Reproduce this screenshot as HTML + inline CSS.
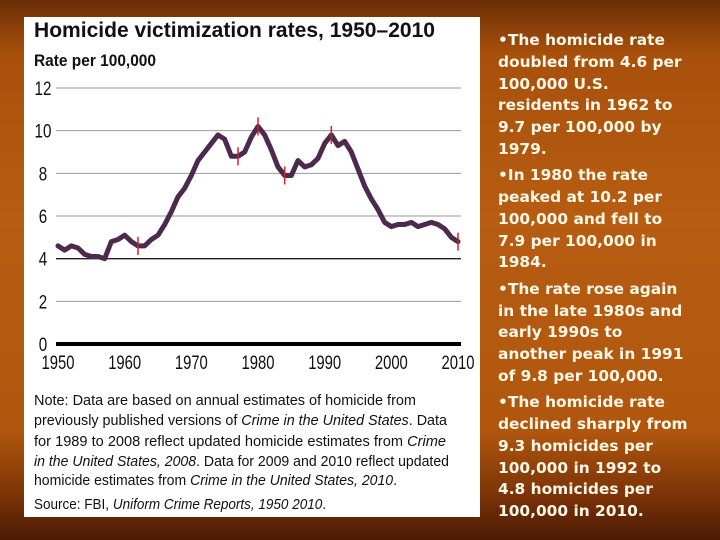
<!DOCTYPE html>
<html><head><meta charset="utf-8"><style>
html,body{margin:0;padding:0;width:720px;height:540px;overflow:hidden}
body{background:linear-gradient(180deg,#6a2e06 0%,#a8500c 10%,#b75d12 40%,#b0560e 80%,#7a3206 92%,#4a1a04 100%);position:relative;font-family:"Liberation Sans",sans-serif}
#panel{position:absolute;left:24px;top:17px;width:456px;height:500px;background:#fff}
#side{position:absolute;left:498px;top:30px;width:222px;color:#fff8e8;font-family:"DejaVu Sans",sans-serif;font-weight:bold;font-size:15.4px;line-height:21.8px}
#side p{margin:0 0 4.5px 0;white-space:nowrap}
</style></head><body>
<div id="panel"></div>
<svg id="chart" width="720" height="540" style="position:absolute;left:0;top:0">
<text x="34" y="37" font-size="21" font-weight="bold" textLength="401" lengthAdjust="spacingAndGlyphs" fill="#111">Homicide victimization rates, 1950–2010</text>
<text x="34" y="66" font-size="17" font-weight="bold" textLength="122" lengthAdjust="spacingAndGlyphs" fill="#111">Rate per 100,000</text>
<g id="grid"></g><g id="ylabels"></g><g id="xlabels"></g><g id="series"></g><g id="marks"></g>
<g font-size="15" fill="#111">
<text x="34" y="405" textLength="382" lengthAdjust="spacingAndGlyphs">Note: Data are based on annual estimates of homicide from</text>
<text x="34" y="425" textLength="413" lengthAdjust="spacingAndGlyphs">previously published versions of <tspan font-style="italic">Crime in the United States</tspan>. Data</text>
<text x="34" y="446" textLength="412" lengthAdjust="spacingAndGlyphs">for 1989 to 2008 reflect updated homicide estimates from <tspan font-style="italic">Crime</tspan></text>
<text x="34" y="466" textLength="415" lengthAdjust="spacingAndGlyphs"><tspan font-style="italic">in the United States, 2008</tspan>. Data for 2009 and 2010 reflect updated</text>
<text x="34" y="485" textLength="363" lengthAdjust="spacingAndGlyphs">homicide estimates from <tspan font-style="italic">Crime in the United States, 2010</tspan>.</text>
<text x="34" y="509" textLength="292" lengthAdjust="spacingAndGlyphs">Source: FBI, <tspan font-style="italic">Uniform Crime Reports, 1950 2010</tspan>.</text>
</g>
</svg>
<div id="side">
<p>•The homicide rate<br>doubled from 4.6 per<br>100,000 U.S.<br>residents in 1962 to<br>9.7 per 100,000 by<br>1979.</p>
<p>•In 1980 the rate<br>peaked at 10.2 per<br>100,000 and fell to<br>7.9 per 100,000 in<br>1984.</p>
<p>•The rate rose again<br>in the late 1980s and<br>early 1990s to<br>another peak in 1991<br>of 9.8 per 100,000.</p>
<p>•The homicide rate<br>declined sharply from<br>9.3 homicides per<br>100,000 in 1992 to<br>4.8 homicides per<br>100,000 in 2010.</p>
</div>
<script>
const years=[1950,1951,1952,1953,1954,1955,1956,1957,1958,1959,1960,1961,1962,1963,1964,1965,1966,1967,1968,1969,1970,1971,1972,1973,1974,1975,1976,1977,1978,1979,1980,1981,1982,1983,1984,1985,1986,1987,1988,1989,1990,1991,1992,1993,1994,1995,1996,1997,1998,1999,2000,2001,2002,2003,2004,2005,2006,2007,2008,2009,2010];
const rates=[4.6,4.4,4.6,4.5,4.2,4.1,4.1,4.0,4.8,4.9,5.1,4.8,4.6,4.6,4.9,5.1,5.6,6.2,6.9,7.3,7.9,8.6,9.0,9.4,9.8,9.6,8.8,8.8,9.0,9.7,10.2,9.8,9.1,8.3,7.9,7.9,8.6,8.3,8.4,8.7,9.4,9.8,9.3,9.5,9.0,8.2,7.4,6.8,6.3,5.7,5.5,5.6,5.6,5.7,5.5,5.6,5.7,5.6,5.4,5.0,4.8];
const yTicks=[0,2,4,6,8,10,12];
const xTicks=[1950,1960,1970,1980,1990,2000,2010];
const markYears=[1962,1977,1980,1984,1991,2010];
const NS="http://www.w3.org/2000/svg";
const x=y=>58+(y-1950)*(400/60);
const yv=v=>344-v*(256/12);
function mk(t,a,p){const e=document.createElementNS(NS,t);for(const k in a)e.setAttribute(k,a[k]);p.appendChild(e);return e;}
const grid=document.getElementById('grid'),yl=document.getElementById('ylabels'),xl=document.getElementById('xlabels');
yTicks.forEach(v=>{
 const l=mk('line',{x1:56,x2:461,y1:yv(v),y2:yv(v),stroke:v===0?'#000':(v===4?'#222':'#999'),'stroke-width':v===0?4:(v===4?1.3:1)},grid);
 
 
 const t=mk('text',{x:43,y:yv(v)+7,'font-size':19,'text-anchor':'middle',fill:'#111',transform:`translate(43 0) scale(0.8 1) translate(-43 0)`},yl);
 t.textContent=v;
 
 
});
xTicks.forEach(yr=>{
 const cx=x(yr);
 const t=mk('text',{x:cx,y:369,'font-size':19,'text-anchor':'middle',fill:'#111',transform:`translate(${cx} 0) scale(0.78 1) translate(${-cx} 0)`},xl);
 t.textContent=yr;
 
 
});
const pl=mk('polyline',{points:years.map((yr,i)=>x(yr)+','+yv(rates[i])).join(' '),fill:'none',stroke:'#4b2a4d','stroke-width':5,'stroke-linejoin':'round','stroke-linecap':'round'},document.getElementById('series'));


const mg=document.getElementById('marks');
markYears.forEach(yr=>{
 const v=rates[years.indexOf(yr)];
 const m=mk('line',{x1:x(yr),x2:x(yr),y1:yv(v)-9,y2:yv(v)+9,stroke:'#d62020','stroke-width':1.5},mg);
 
 
});
</script>
</body></html>
